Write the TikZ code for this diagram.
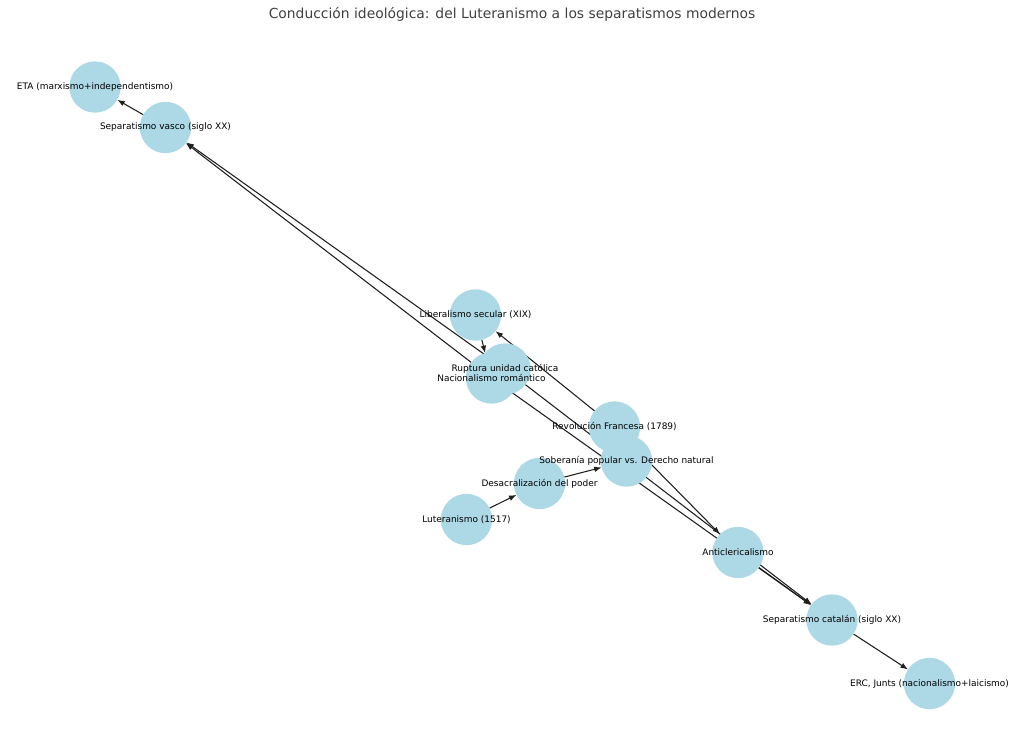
\documentclass[tikz,border=0pt]{standalone}
\usepackage{fontspec}
\setmainfont{DejaVu Sans}
\usetikzlibrary{arrows.meta}
\definecolor{nodeblue}{HTML}{ADD8E6}
\definecolor{titlegray}{HTML}{404040}
\definecolor{edgecol}{HTML}{1F1F1F}
\pgfdeclarelayer{bg}
\pgfdeclarelayer{edges}
\pgfdeclarelayer{labels}
\pgfsetlayers{bg,edges,main,labels}
\tikzset{
  nd/.style={circle, fill=nodeblue, draw=none, minimum size=38.5pt, inner sep=0pt, outer sep=0pt},
  lbl/.style={inner sep=0pt, text=black, font=\fontsize{6.72pt}{8pt}\selectfont},
  edge/.style={draw=edgecol, line width=0.8pt, -{Latex[length=5.6pt, width=4.2pt]}},
  ttl/.style={inner sep=0pt, text=titlegray, font=\fontsize{10.4pt}{12.5pt}\selectfont}
}
\begin{document}
\begin{tikzpicture}[x=0.75pt, y=-0.75pt]
\useasboundingbox (0,0) rectangle (1024,753);
\begin{pgfonlayer}{bg}
\fill[white] (0,0) rectangle (1024,753);
\end{pgfonlayer}
\node[ttl] (title) at (512,14) {Conducción ideológica: del Luteranismo a los separatismos modernos};
% node circles
\node[nd] (lut) at (466.5,519.5) {};
\node[nd] (des) at (539.5,483.5) {};
\node[nd] (rev) at (614.5,427) {};
\node[nd] (sob) at (626.5,461) {};
\node[nd] (lib) at (475.5,315) {};
\node[nd] (rup) at (505,369) {};
\node[nd] (nac) at (491.5,378) {};
\node[nd] (anti) at (738,552.5) {};
\node[nd] (cat) at (832,620) {};
\node[nd] (erc) at (929.5,683.5) {};
\node[nd] (vas) at (165.5,127.5) {};
\node[nd] (eta) at (95,87) {};
% edges below circles
\begin{pgfonlayer}{edges}
\draw[edge] (lut) -- (des);
\draw[edge] (des) -- (sob);
\draw[edge] (rev) -- (lib);
\draw[edge] (lib) -- (nac);
\draw[edge] (rev) -- (anti);
\draw[edge] (rup) -- (vas);
\draw[edge] (nac) -- (vas);
\draw[edge] (rup) -- (cat);
\draw[edge] (nac) -- (cat);
\draw[edge] (anti) -- (cat);
\draw[edge] (cat) -- (erc);
\draw[edge] (vas) -- (eta);
\end{pgfonlayer}
% labels above everything
\begin{pgfonlayer}{labels}
\node[lbl] (lutl) at (lut.center) {Luteranismo (1517)};
\node[lbl] (desl) at (des.center) {Desacralización del poder};
\node[lbl] (revl) at (rev.center) {Revolución Francesa (1789)};
\node[lbl] (sobl) at (sob.center) {Soberanía popular vs. Derecho natural};
\node[lbl] (libl) at (lib.center) {Liberalismo secular (XIX)};
\node[lbl] (rupl) at (rup.center) {Ruptura unidad católica};
\node[lbl] (nacl) at (nac.center) {Nacionalismo romántico};
\node[lbl] (antil) at (anti.center) {Anticlericalismo};
\node[lbl] (catl) at (cat.center) {Separatismo catalán (siglo XX)};
\node[lbl] (ercl) at (erc.center) {ERC, Junts (nacionalismo+laicismo)};
\node[lbl] (vasl) at (vas.center) {Separatismo vasco (siglo XX)};
\node[lbl] (etal) at (eta.center) {ETA (marxismo+independentismo)};
\end{pgfonlayer}
\end{tikzpicture}
\end{document}
